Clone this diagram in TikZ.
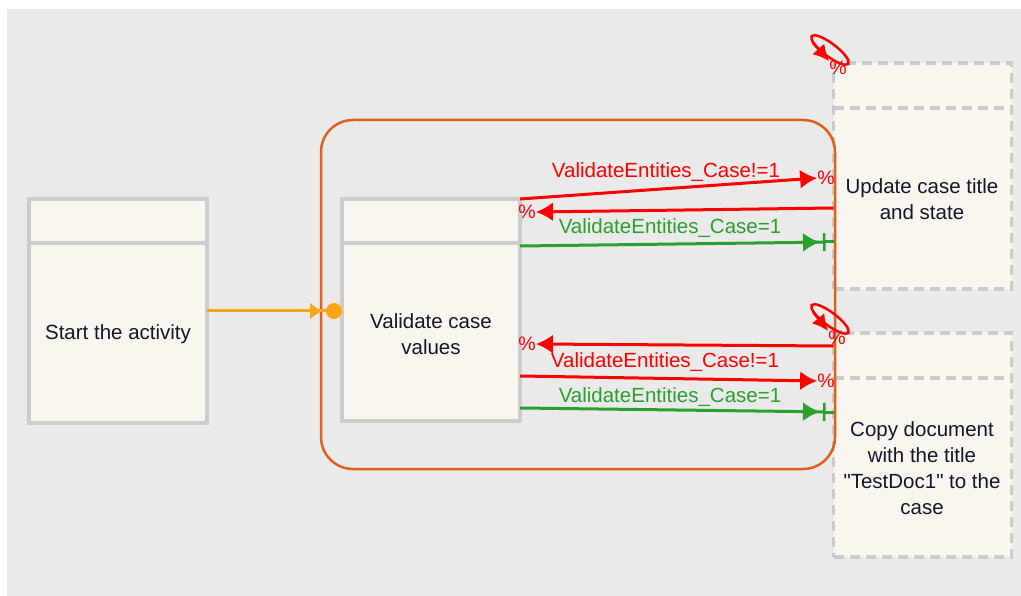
\documentclass[tikz,border=0pt]{standalone}
\usepackage{fontspec}
\setmainfont{Liberation Sans}[Ligatures=TeXOff]
\usepackage{tikz}
\usetikzlibrary{positioning,arrows.meta}
\definecolor{canvasgray}{HTML}{EAEAEA}
\definecolor{boxfill}{HTML}{F8F6EE}
\definecolor{boxgray}{HTML}{CDCDCD}
\definecolor{dashgray}{HTML}{CBCBCB}
\definecolor{subprocorange}{HTML}{E0601C}
\definecolor{startorange}{HTML}{FFA514}
\definecolor{flowgreen}{HTML}{2CA02C}
\definecolor{inkdark}{HTML}{16162A}

\begin{document}
\begin{tikzpicture}[x=1pt,y=-1pt,>=Latex,
  font=\fontsize{20.5}{26}\selectfont,
  actbox/.style={draw=boxgray,line width=4pt,fill=boxfill,outer sep=0pt,inner sep=0pt,minimum width=178pt},
  ghostbox/.style={draw=dashgray,line width=3.5pt,dash pattern=on 10pt off 6pt,fill=boxfill,outer sep=0pt,inner sep=0pt,minimum width=178pt},
  ghostline/.style={dashgray,line width=3.5pt,dash pattern=on 10pt off 6pt},
  boxtext/.style={align=center,text=inkdark},
  condred/.style={text=red,inner sep=0pt},
  condgreen/.style={text=flowgreen,inner sep=0pt},
  pct/.style={text=red,font=\fontsize{19.5}{19.5}\selectfont,inner sep=0pt},
  redflow/.style={red,line width=3pt,-{Latex[length=17pt,width=19pt]}},
  greenflow/.style={flowgreen,line width=3pt,shorten >=8pt,-{Latex[length=17pt,width=19pt,sep=3pt]Bar[width=18pt,line width=2.5pt]}},
  greenstub/.style={flowgreen,line width=3pt}]
\useasboundingbox (0,0) rectangle (1021,596);
\fill[white] (0,0) rectangle (1021,596);
\fill[canvasgray] (7,9) rectangle (1021,596);

% ================= Activities =================
\node[actbox,minimum height=223pt] (start) at (118,311) {};
\draw[boxgray,line width=4pt] ([yshift=-44pt]start.north west) -- ([yshift=-44pt]start.north east);
\node[actbox,minimum height=222pt] (validate) at (431,310) {};
\draw[boxgray,line width=4pt] ([yshift=-44pt]validate.north west) -- ([yshift=-44pt]validate.north east);
\node[ghostbox,minimum height=226pt] (update) at (922.5,176) {};
\draw[ghostline] ([yshift=-45pt]update.north west) -- ([yshift=-45pt]update.north east);
\node[ghostbox,minimum height=224pt] (copy) at (922.5,445) {};
\draw[ghostline] ([yshift=-45pt]copy.north west) -- ([yshift=-45pt]copy.north east);

% ================= Sub-process frame =================
\node[draw=subprocorange,line width=2.5pt,rounded corners=32pt,outer sep=0pt,
  minimum width=514pt,minimum height=349pt] (subproc) at (578,294.5) {};

\node[boxtext] (starttext) at (118,334) {Start the activity};
\node[boxtext] (validatetext) at (431,334) {Validate case\\values};
\node[boxtext] (updatetext) at (922,199) {Update case title\\and state};
\node[boxtext] (copytext) at (922,468) {Copy document\\with the title\\"TestDoc1" to the\\case};

% ================= Start flow =================
\draw[startorange,line width=3pt,-{Latex[length=13pt,width=17pt,sep=3pt]Circle[length=16pt]}]
  (start.east) -- (validate.west |- start.east);

% ================= Flows to update =================
\node[pct] (pctA) at (826,178) {\%};
\draw[redflow] (validate.north east) -- (pctA.west);
\node[condred] (condA) at (666,172) {ValidateEntities\_Case!=1};
\node[pct] (pctB) at (527,212) {\%};
\draw[redflow] ([yshift=-32pt]update.west) -- (pctB.east);
\draw[greenflow] ([yshift=64pt]validate.east) -- ([yshift=-66pt]update.west);
\draw[greenstub] ([yshift=-66pt]update.west) -- ++(-10,0);
\node[condgreen] (condC) at (670,228) {ValidateEntities\_Case=1};

% ================= Flows to copy =================
\node[pct] (pctD) at (527,344) {\%};
\draw[redflow] ([yshift=99pt]copy.west) -- (pctD.east);
\node[pct] (pctE) at (826,381) {\%};
\draw[redflow] ([yshift=-66pt]validate.east) -- (pctE.west);
\node[condred] (condE) at (665,362) {ValidateEntities\_Case!=1};
\draw[greenflow] ([yshift=-98pt]validate.east) -- ([yshift=33pt]copy.west);
\draw[greenstub] ([yshift=33pt]copy.west) -- ++(-10,0);
\node[condgreen] (condF) at (670,397) {ValidateEntities\_Case=1};

% ================= Self loops =================
\node[pct] (updloop) at (838,68) {\%};
\draw[red,line width=2.5pt,rotate around={-37:(830,50)}] (830,50) ellipse [x radius=23pt,y radius=6.5pt];
\draw[red,line width=2.5pt,-{Latex[length=16pt,width=16pt]}] (813,43) -- (updloop.north west);
\node[pct] (copyloop) at (837,338) {\%};
\draw[red,line width=2.5pt,rotate around={-37:(830,319)}] (830,319) ellipse [x radius=23pt,y radius=6.5pt];
\draw[red,line width=2.5pt,-{Latex[length=16pt,width=16pt]}] (813,312) -- (copyloop.north west);
\end{tikzpicture}
\end{document}
